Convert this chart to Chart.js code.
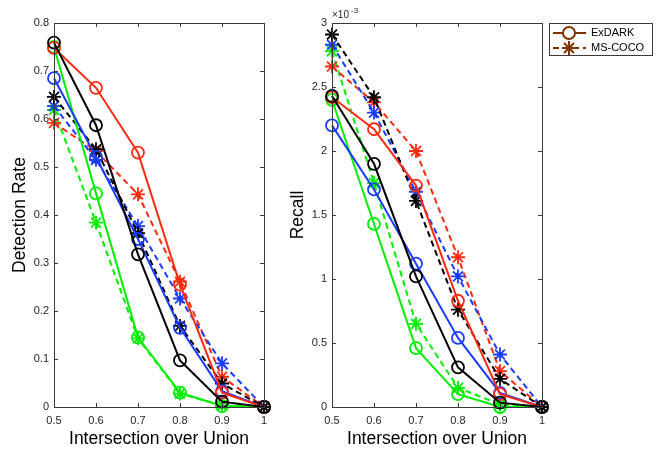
<!DOCTYPE html>
<html>
<head>
<meta charset="utf-8">
<script src="https://cdn.jsdelivr.net/npm/chart.js@4"></script>
<style>
  body { margin: 0; background: #fff; }
  #wrap { position: relative; width: 660px; height: 452px; }
  canvas { position: absolute; top: 0; }
</style>
</head>
<body>
<div id="wrap">
  <canvas id="rateChart" width="280" height="452" style="left:0"></canvas>
  <canvas id="recallChart" width="380" height="452" style="left:280px"></canvas>
</div>
<script>
// IoU thresholds (x axis)
const iou = [0.5, 0.6, 0.7, 0.8, 0.9, 1];

// Detection rate - ExDARK (solid, circles)
const rateExdarkRed   = [0.748, 0.665, 0.530, 0.255, 0.030, 0];
const rateExdarkBlack = [0.759, 0.587, 0.318, 0.097, 0.011, 0];
const rateExdarkBlue  = [0.685, 0.521, 0.350, 0.165, 0.033, 0];
const rateExdarkGreen = [0.750, 0.445, 0.145, 0.030, 0.002, 0];
// Detection rate - MS-COCO (dashed, stars)
const rateCocoRed   = [0.592, 0.533, 0.443, 0.261, 0.063, 0];
const rateCocoBlack = [0.646, 0.537, 0.362, 0.169, 0.049, 0];
const rateCocoBlue  = [0.627, 0.515, 0.377, 0.226, 0.091, 0];
const rateCocoGreen = [0.619, 0.384, 0.143, 0.028, 0.003, 0];

// Recall - ExDARK
const recallExdarkRed   = [0.00242, 0.00217, 0.00173, 0.00083, 0.00010, 0];
const recallExdarkBlack = [0.00243, 0.00190, 0.00102, 0.00031, 0.000034, 0];
const recallExdarkBlue  = [0.00220, 0.00170, 0.00112, 0.00054, 0.00011, 0];
const recallExdarkGreen = [0.00240, 0.00143, 0.00046, 0.00010, 0.0000, 0];
// Recall - MS-COCO
const recallCocoRed   = [0.00266, 0.00238, 0.00200, 0.00117, 0.00028, 0];
const recallCocoBlack = [0.00291, 0.00242, 0.00161, 0.00076, 0.00022, 0];
const recallCocoBlue  = [0.00283, 0.00230, 0.00168, 0.00102, 0.00041, 0];
const recallCocoGreen = [0.00278, 0.00175, 0.00065, 0.00015, 0.00002, 0];

const legendLabels = ['ExDARK', 'MS-COCO'];
const rateTicks = [0, 0.1, 0.2, 0.3, 0.4, 0.5, 0.6, 0.7, 0.8];
const recallTicks = [0, 0.5, 1, 1.5, 2, 2.5, 3];

const COLORS = { red: '#ff2a10', black: '#000000', blue: '#1a3cff', green: '#00ee00' };
const BROWN = '#7f3300';
const FONT = '"Liberation Sans", Arial, Helvetica, sans-serif';
const TEXT = '#262626';

function series(values, color, coco) {
  return {
    data: iou.map((x, i) => ({ x: x, y: values[i] })),
    borderColor: color,
    borderWidth: 2,
    borderDash: coco ? [6, 4] : [],
    pointStyle: coco ? 'star' : 'circle',
    pointRadius: coco ? 7 : 6,
    pointBorderWidth: 1.8,
    pointBorderColor: color,
    pointBackgroundColor: 'rgba(0,0,0,0)',
    tension: 0,
    clip: false,
    fill: false
  };
}

// MATLAB style box with inward ticks plus axis titles
function frame(opts) {
  return {
    id: 'frame',
    afterDraw(chart) {
      const ctx = chart.ctx;
      const a = chart.chartArea;
      const xs = chart.scales.x, ys = chart.scales.y;
      ctx.save();
      ctx.strokeStyle = '#3a3a3a';
      ctx.lineWidth = 1;
      ctx.strokeRect(a.left + 0.5, a.top + 0.5, a.right - a.left, a.bottom - a.top);
      ctx.beginPath();
      xs.ticks.forEach(t => {
        const px = Math.round(xs.getPixelForValue(t.value)) + 0.5;
        ctx.moveTo(px, a.bottom); ctx.lineTo(px, a.bottom - 4);
        ctx.moveTo(px, a.top); ctx.lineTo(px, a.top + 4);
      });
      ys.ticks.forEach(t => {
        const py = Math.round(ys.getPixelForValue(t.value)) + 0.5;
        ctx.moveTo(a.left, py); ctx.lineTo(a.left + 4, py);
        ctx.moveTo(a.right, py); ctx.lineTo(a.right - 4, py);
      });
      ctx.stroke();

      ctx.fillStyle = '#000';
      ctx.font = '17.5px ' + FONT;
      ctx.textAlign = 'center';
      ctx.textBaseline = 'middle';
      ctx.fillText('Intersection over Union', (a.left + a.right) / 2, 439);
      ctx.save();
      ctx.translate(opts.yTitleX, (a.top + a.bottom) / 2);
      ctx.rotate(-Math.PI / 2);
      ctx.fillText(opts.yTitle, 0, 0);
      ctx.restore();

      if (opts.exponent) {
        ctx.fillStyle = TEXT;
        ctx.textAlign = 'left';
        ctx.textBaseline = 'alphabetic';
        ctx.font = '10px ' + FONT;
        ctx.fillText('\u00d710', a.left, 18);
        ctx.font = '8px ' + FONT;
        ctx.fillText('-3', a.left + 19, 13);
      }

      if (opts.legend) {
        const lx = a.right + 7, ly = a.top, lw = 103, lh = 32;
        ctx.fillStyle = '#fff';
        ctx.fillRect(lx, ly, lw, lh);
        ctx.strokeStyle = '#3a3a3a';
        ctx.strokeRect(lx + 0.5, ly + 0.5, lw, lh);
        const rows = [ly + 10, ly + 25];
        ctx.strokeStyle = BROWN;
        ctx.lineWidth = 2;
        rows.forEach((ry, i) => {
          ctx.setLineDash(i === 1 ? [6, 4] : []);
          ctx.beginPath();
          ctx.moveTo(lx + 4, ry); ctx.lineTo(lx + 37, ry);
          ctx.stroke();
          ctx.setLineDash([]);
          Chart.helpers.drawPoint(ctx, {
            pointStyle: i === 1 ? 'star' : 'circle',
            radius: i === 1 ? 7 : 6,
            rotation: 0, borderWidth: 1.8
          }, lx + 20, ry);
          ctx.strokeStyle = BROWN;
          ctx.fillStyle = '#000';
          ctx.font = '11px ' + FONT;
          ctx.textAlign = 'left';
          ctx.textBaseline = 'middle';
          ctx.fillText(legendLabels[i], lx + 42, ry);
        });
      }
      ctx.restore();
    }
  };
}

function makeChart(id, sets, yMax, yStep, yWidth, rightPad, tickFmt, frameOpts) {
  const tickFont = { family: FONT, size: 11 };
  return new Chart(document.getElementById(id), {
    type: 'line',
    data: { datasets: sets },
    options: {
      responsive: false,
      animation: false,
      layout: { padding: { top: 23, right: rightPad, left: 0, bottom: 0 } },
      plugins: { legend: { display: false }, tooltip: { enabled: false } },
      scales: {
        x: {
          type: 'linear', min: 0.5, max: 1,
          ticks: {
            stepSize: 0.1, autoSkip: false, maxRotation: 0, font: tickFont, color: TEXT, padding: 7,
            callback: v => String(+v.toFixed(1))
          },
          grid: { display: false, drawTicks: false }, border: { display: false },
          afterFit(s) { s.height = 45; }
        },
        y: {
          min: 0, max: yMax,
          ticks: { stepSize: yStep, autoSkip: false, font: tickFont, color: TEXT, padding: 5, callback: tickFmt },
          grid: { display: false, drawTicks: false }, border: { display: false },
          afterFit(s) { s.width = yWidth; }
        }
      }
    },
    plugins: [frame(frameOpts)]
  });
}

// dataset 0 is painted on top
const rateSets = [
  series(rateExdarkBlack, COLORS.black, false),
  series(rateExdarkRed, COLORS.red, false),
  series(rateExdarkBlue, COLORS.blue, false),
  series(rateExdarkGreen, COLORS.green, false),
  series(rateCocoBlack, COLORS.black, true),
  series(rateCocoBlue, COLORS.blue, true),
  series(rateCocoRed, COLORS.red, true),
  series(rateCocoGreen, COLORS.green, true)
];
const recallSets = [
  series(recallExdarkBlack, COLORS.black, false),
  series(recallExdarkRed, COLORS.red, false),
  series(recallExdarkBlue, COLORS.blue, false),
  series(recallExdarkGreen, COLORS.green, false),
  series(recallCocoBlack, COLORS.black, true),
  series(recallCocoBlue, COLORS.blue, true),
  series(recallCocoRed, COLORS.red, true),
  series(recallCocoGreen, COLORS.green, true)
];

makeChart('rateChart', rateSets, 0.8, 0.1, 54, 16,
  v => { const t = rateTicks.find(k => Math.abs(k - v) < 1e-6); return t === undefined ? '' : String(t); },
  { yTitle: 'Detection Rate', yTitleX: 20 });

makeChart('recallChart', recallSets, 0.003, 0.0005, 52, 118,
  v => { const t = recallTicks.find(k => Math.abs(k - v * 1000) < 1e-6); return t === undefined ? '' : String(t); },
  { yTitle: 'Recall', yTitleX: 18, exponent: true, legend: true });
</script>
</body>
</html>
